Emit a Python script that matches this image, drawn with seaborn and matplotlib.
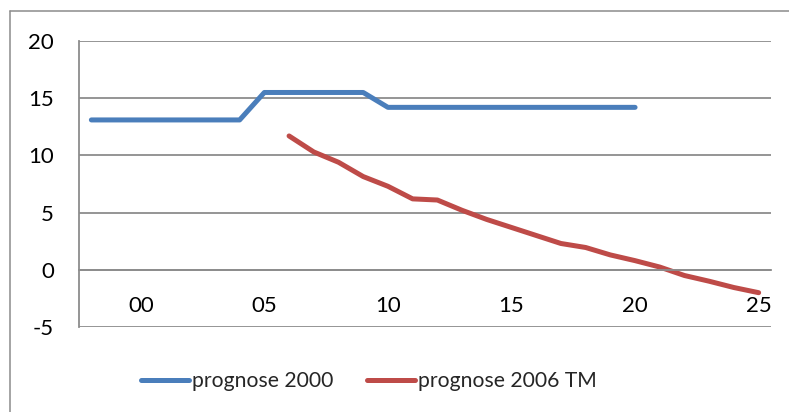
import matplotlib
matplotlib.use("Agg")
import matplotlib.pyplot as plt
from matplotlib.lines import Line2D
import numpy as np
import pandas as pd
import seaborn as sns

# Prognosis series (yearly values)
years_2000 = list(range(1998, 2021))
prognose_2000 = [13.1, 13.1, 13.1, 13.1, 13.1, 13.1, 13.1,
                 15.5, 15.5, 15.5, 15.5, 15.5,
                 14.2, 14.2, 14.2, 14.2, 14.2, 14.2, 14.2, 14.2, 14.2, 14.2, 14.2]

years_2006 = list(range(2006, 2026))
prognose_2006 = [11.7, 10.3, 9.4, 8.15, 7.3, 6.2, 6.1, 5.2, 4.4, 3.7,
                 3.0, 2.3, 1.95, 1.3, 0.8, 0.24, -0.5, -1.0, -1.55, -2.0]

series_names = ["prognose 2000", "prognose 2006 TM"]
series_colors = ["#4A7EBB", "#BE4B48"]

year_first, year_last = 1998, 2025
label_years = [2000, 2005, 2010, 2015, 2020, 2025]
label_texts = ["00", "05", "10", "15", "20", "25"]
y_ticks = [-5, 0, 5, 10, 15, 20]

df = pd.concat([
    pd.DataFrame({"year": years_2000, "value": prognose_2000, "series": series_names[0]}),
    pd.DataFrame({"year": years_2006, "value": prognose_2006, "series": series_names[1]}),
], ignore_index=True)

sns.set_theme(style="white")
plt.rcParams["font.family"] = ["Lato", "DejaVu Sans"]

W, H = 789, 412
fig = plt.figure(figsize=(W / 100, H / 100), dpi=100)
fig.patch.set_facecolor("white")

# outer chart border (left and top edges visible)
border_col = "#8c8c8c"
fig.add_artist(Line2D([10 / W, 10 / W], [0, 1 - 11 / H], color=border_col, lw=1.1,
                      transform=fig.transFigure))
fig.add_artist(Line2D([10 / W, 1], [1 - 11 / H, 1 - 11 / H], color=border_col, lw=1.1,
                      transform=fig.transFigure))

left, right, top, bottom = 79, 771, 41, 327
ax = fig.add_axes([left / W, 1 - bottom / H, (right - left) / W, (bottom - top) / H])
ax.set_facecolor("white")

sns.lineplot(data=df, x="year", y="value", hue="series", hue_order=series_names,
             palette=series_colors, linewidth=3.6, errorbar=None, legend=False, ax=ax)
for ln in ax.lines:
    ln.set_solid_capstyle("round")
    ln.set_solid_joinstyle("round")

grid_col = "#8c8c8c"
ax.set_xlim(year_first - 0.5, year_last + 0.5)
ax.set_ylim(-5, 20)
ax.set_yticks(y_ticks)
ax.set_yticklabels([str(v) for v in y_ticks])
ax.yaxis.grid(True, color=grid_col, lw=1.3)
ax.xaxis.grid(False)
ax.set_axisbelow(True)

for s in ["top", "right"]:
    ax.spines[s].set_visible(False)
ax.spines["left"].set_color(grid_col)
ax.spines["left"].set_linewidth(1.3)
ax.spines["bottom"].set_position(("data", 0))
ax.spines["bottom"].set_color(grid_col)
ax.spines["bottom"].set_linewidth(1.3)

# category boundaries as tick marks, year labels centred between them
ax.set_xticks(np.arange(year_first - 0.5, year_last + 1.0, 1.0))
ax.set_xticklabels([])
ax.set_xticks(label_years, minor=True)
ax.set_xticklabels(label_texts, minor=True)
ax.tick_params(axis="x", which="major", length=6, width=1.3, color=grid_col, direction="out")
ax.tick_params(axis="x", which="minor", length=0, pad=19, labelsize=16, labelcolor="black")
ax.tick_params(axis="y", length=6, width=1.3, color=grid_col, direction="out",
               pad=12, labelsize=16, labelcolor="black")
ax.set_xlabel("")
ax.set_ylabel("")

handles = [Line2D([0], [0], color=c, lw=3.6, solid_capstyle="round") for c in series_colors]
fig.legend(handles, series_names, loc="center", bbox_to_anchor=(369 / W, 1 - 381 / H),
           ncol=2, frameon=False, fontsize=15.2, handlelength=2.25, handletextpad=0.15,
           columnspacing=1.6)

fig.savefig("out.png", dpi=100, facecolor="white")
